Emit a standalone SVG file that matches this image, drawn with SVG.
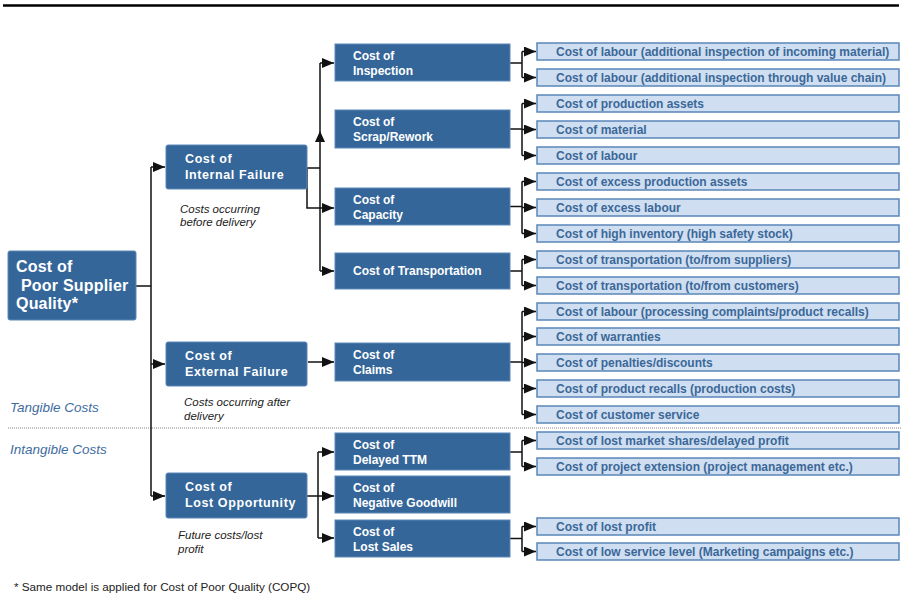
<svg xmlns="http://www.w3.org/2000/svg" width="902" height="597" viewBox="0 0 902 597">
<style>
.dark{fill:#34669a;stroke:#5a88b8;stroke-width:1}
.leaf{fill:#cfdef0;stroke:#5a87b9;stroke-width:1.5}
.t0{font-family:"Liberation Sans",Arial,sans-serif;font-weight:bold;font-size:16px;fill:#fff;letter-spacing:0.2px}
.t1{font-family:"Liberation Sans",Arial,sans-serif;font-weight:bold;font-size:12.5px;fill:#fff;letter-spacing:0.6px}
.t2{font-family:"Liberation Sans",Arial,sans-serif;font-weight:bold;font-size:12px;fill:#fff}
.tl{font-family:"Liberation Sans",Arial,sans-serif;font-weight:bold;font-size:12px;fill:#3b6899}
.cap{font-family:"Liberation Sans",Arial,sans-serif;font-style:italic;font-size:11.5px;fill:#222}
.zone{font-family:"Liberation Sans",Arial,sans-serif;font-style:italic;font-size:13.5px;fill:#3e6d9f}
.note{font-family:"Liberation Sans",Arial,sans-serif;font-size:11.7px;fill:#222}
.c{fill:none;stroke:#111;stroke-width:1.5}
.a{fill:none;stroke:#111;stroke-width:1.5;marker-end:url(#ah)}
</style>
<defs>
<marker id="ah" markerUnits="userSpaceOnUse" markerWidth="12" markerHeight="10" refX="12" refY="5" orient="auto">
<path d="M0,0 L12,5 L0,10 z" fill="#111"/>
</marker>
</defs>
<rect width="902" height="597" fill="#fff"/>
<line x1="3" y1="5.5" x2="899" y2="5.5" stroke="#000" stroke-width="2.5"/>
<line x1="8" y1="428" x2="902" y2="428" stroke="#888" stroke-width="1" stroke-dasharray="1,1"/>
<text class="zone" x="10" y="412">Tangible Costs</text>
<text class="zone" x="10" y="454">Intangible Costs</text>
<text class="note" x="14" y="591">* Same model is applied for Cost of Poor Quality (COPQ)</text>

<g id="connectors">
<path class="c" d="M136,286 H151 M151,167 V496"/>
<path class="a" d="M151,167 H165"/>
<path class="a" d="M151,364 H165"/>
<path class="a" d="M151,496 H165"/>
<path class="c" d="M293,168 H320 M320,63 V271"/>
<path class="a" d="M320,63 H334"/>
<path class="a" d="M320,271 H334"/>
<path class="a" d="M307,168 V208 H334"/>
<path d="M315,142 L320,131 L325,142 z" fill="#111"/>
<path class="a" d="M308,362 H334"/>
<path class="c" d="M307,496 H318 M318,452 V538"/>
<path class="a" d="M318,452 H334"/>
<path class="a" d="M318,496 H334"/>
<path class="a" d="M318,538 H334"/>
<path class="c" d="M510,63 H522 M522,51.5 V77.5"/>
<path class="a" d="M522,51.5 H536"/><path class="a" d="M522,77.5 H536"/>
<path class="c" d="M510,129 H522 M522,103.5 V155.5"/>
<path class="a" d="M522,103.5 H536"/><path class="a" d="M522,129.5 H536"/><path class="a" d="M522,155.5 H536"/>
<path class="c" d="M510,206.5 H522 M522,181.5 V233.5"/>
<path class="a" d="M522,181.5 H536"/><path class="a" d="M522,207.5 H536"/><path class="a" d="M522,233.5 H536"/>
<path class="c" d="M510,271 H522 M522,259.5 V285.5"/>
<path class="a" d="M522,259.5 H536"/><path class="a" d="M522,285.5 H536"/>
<path class="c" d="M510,362 H522 M522,311.5 V414.5"/>
<path class="a" d="M522,311.5 H536"/><path class="a" d="M522,336.5 H536"/><path class="a" d="M522,362.5 H536"/><path class="a" d="M522,388.5 H536"/><path class="a" d="M522,414.5 H536"/>
<path class="c" d="M510,452 H522 M522,440.5 V466.5"/>
<path class="a" d="M522,440.5 H536"/><path class="a" d="M522,466.5 H536"/>
<path class="c" d="M510,538.5 H522 M522,526.5 V551.5"/>
<path class="a" d="M522,526.5 H536"/><path class="a" d="M522,551.5 H536"/>
</g>

<g id="root"><rect class="dark" x="8" y="251" width="128" height="69" rx="2"/>
<text class="t0" x="16" y="272">Cost of</text><text class="t0" x="21" y="291">Poor Supplier</text><text class="t0" x="16" y="309">Quality*</text></g>

<g id="internal-failure"><rect class="dark" x="166" y="145" width="141" height="44" rx="2"/>
<text class="t1" x="185" y="163">Cost of</text><text class="t1" x="185" y="179">Internal Failure</text></g>
<g id="internal-caption"><text class="cap" x="180" y="213">Costs occurring</text><text class="cap" x="180" y="226">before delivery</text></g>

<g id="external-failure"><rect class="dark" x="166" y="342" width="141" height="44" rx="2"/>
<text class="t1" x="185" y="360">Cost of</text><text class="t1" x="185" y="376">External Failure</text></g>
<g id="external-caption"><text class="cap" x="184" y="406">Costs occurring after</text><text class="cap" x="184" y="420">delivery</text></g>

<g id="lost-opportunity"><rect class="dark" x="166" y="473" width="141" height="45" rx="2"/>
<text class="t1" x="185" y="491">Cost of</text><text class="t1" x="185" y="507">Lost Opportunity</text></g>
<g id="lost-caption"><text class="cap" x="178" y="539">Future costs/lost</text><text class="cap" x="178" y="553">profit</text></g>

<g id="inspection"><rect class="dark" x="335" y="44" width="175" height="37"/>
<text class="t2" x="353" y="60">Cost of</text><text class="t2" x="353" y="75">Inspection</text></g>
<g id="scrap"><rect class="dark" x="335" y="110" width="175" height="38"/>
<text class="t2" x="353" y="126">Cost of</text><text class="t2" x="353" y="141">Scrap/Rework</text></g>
<g id="capacity"><rect class="dark" x="335" y="188" width="175" height="37"/>
<text class="t2" x="353" y="204">Cost of</text><text class="t2" x="353" y="219">Capacity</text></g>
<g id="transportation"><rect class="dark" x="335" y="253" width="175" height="36"/>
<text class="t2" x="353" y="275">Cost of Transportation</text></g>
<g id="claims"><rect class="dark" x="335" y="343" width="175" height="38"/>
<text class="t2" x="353" y="359">Cost of</text><text class="t2" x="353" y="374">Claims</text></g>
<g id="delayed-ttm"><rect class="dark" x="335" y="433" width="175" height="37"/>
<text class="t2" x="353" y="449">Cost of</text><text class="t2" x="353" y="464">Delayed TTM</text></g>
<g id="negative-goodwill"><rect class="dark" x="335" y="476" width="175" height="37"/>
<text class="t2" x="353" y="492">Cost of</text><text class="t2" x="353" y="507">Negative Goodwill</text></g>
<g id="lost-sales"><rect class="dark" x="335" y="520" width="175" height="37"/>
<text class="t2" x="353" y="536">Cost of</text><text class="t2" x="353" y="551">Lost Sales</text></g>

<g id="leaf1"><rect class="leaf" x="537" y="43" width="362" height="17"/><text class="tl" x="556" y="55.5">Cost of labour (additional inspection of incoming material)</text></g>
<g id="leaf2"><rect class="leaf" x="537" y="69" width="362" height="17"/><text class="tl" x="556" y="81.5">Cost of labour (additional inspection through value chain)</text></g>
<g id="leaf3"><rect class="leaf" x="537" y="95" width="362" height="17"/><text class="tl" x="556" y="107.5">Cost of production assets</text></g>
<g id="leaf4"><rect class="leaf" x="537" y="121" width="362" height="17"/><text class="tl" x="556" y="133.5">Cost of material</text></g>
<g id="leaf5"><rect class="leaf" x="537" y="147" width="362" height="17"/><text class="tl" x="556" y="159.5">Cost of labour</text></g>
<g id="leaf6"><rect class="leaf" x="537" y="173" width="362" height="17"/><text class="tl" x="556" y="185.5">Cost of excess production assets</text></g>
<g id="leaf7"><rect class="leaf" x="537" y="199" width="362" height="17"/><text class="tl" x="556" y="211.5">Cost of excess labour</text></g>
<g id="leaf8"><rect class="leaf" x="537" y="225" width="362" height="17"/><text class="tl" x="556" y="237.5">Cost of high inventory (high safety stock)</text></g>
<g id="leaf9"><rect class="leaf" x="537" y="251" width="362" height="17"/><text class="tl" x="556" y="263.5">Cost of transportation (to/from suppliers)</text></g>
<g id="leaf10"><rect class="leaf" x="537" y="277" width="362" height="17"/><text class="tl" x="556" y="289.5">Cost of transportation (to/from customers)</text></g>
<g id="leaf11"><rect class="leaf" x="537" y="303" width="362" height="17"/><text class="tl" x="556" y="315.5">Cost of labour (processing complaints/product recalls)</text></g>
<g id="leaf12"><rect class="leaf" x="537" y="328" width="362" height="17"/><text class="tl" x="556" y="340.5">Cost of warranties</text></g>
<g id="leaf13"><rect class="leaf" x="537" y="354" width="362" height="17"/><text class="tl" x="556" y="366.5">Cost of penalties/discounts</text></g>
<g id="leaf14"><rect class="leaf" x="537" y="380" width="362" height="17"/><text class="tl" x="556" y="392.5">Cost of product recalls (production costs)</text></g>
<g id="leaf15"><rect class="leaf" x="537" y="406" width="362" height="17"/><text class="tl" x="556" y="418.5">Cost of customer service</text></g>
<g id="leaf16"><rect class="leaf" x="537" y="432" width="362" height="17"/><text class="tl" x="556" y="444.5">Cost of lost market shares/delayed profit</text></g>
<g id="leaf17"><rect class="leaf" x="537" y="458" width="362" height="17"/><text class="tl" x="556" y="470.5">Cost of project extension (project management etc.)</text></g>
<g id="leaf18"><rect class="leaf" x="537" y="518" width="362" height="17"/><text class="tl" x="556" y="530.5">Cost of lost profit</text></g>
<g id="leaf19"><rect class="leaf" x="537" y="543" width="362" height="17"/><text class="tl" x="556" y="555.5">Cost of low service level (Marketing campaigns etc.)</text></g>
</svg>
